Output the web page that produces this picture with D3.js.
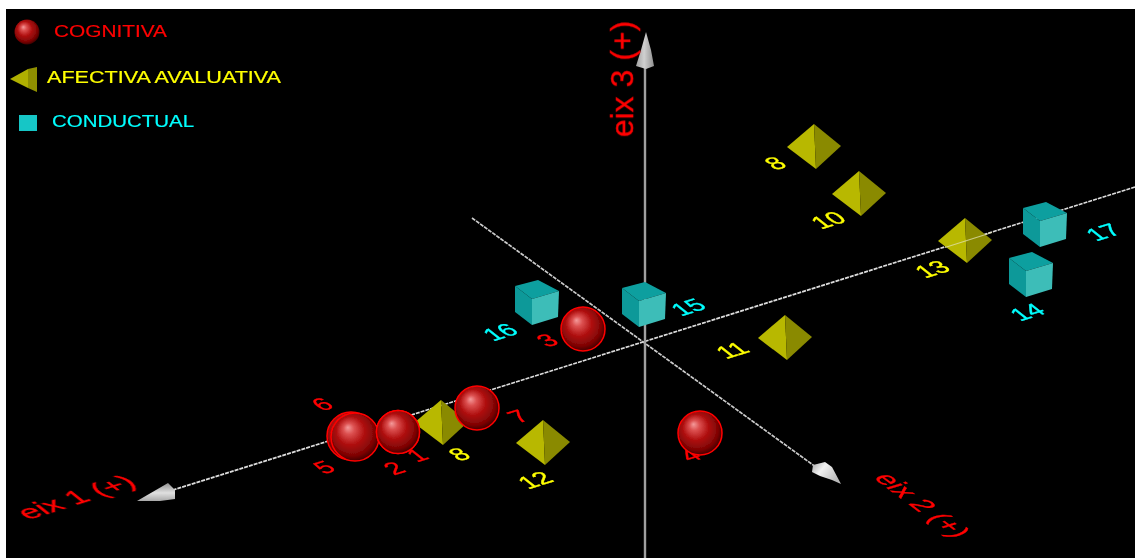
<!DOCTYPE html>
<html>
<head>
<meta charset="utf-8">
<script src="https://cdn.jsdelivr.net/npm/d3@7"></script>
<style>
html,body{margin:0;padding:0;background:#fff;overflow:hidden}
svg{display:block}
text{font-family:"Liberation Sans",Arial,sans-serif}
</style>
</head>
<body>
<div id="chart"></div>
<script>
// ---- data: projected position of each item on the picture plane (units from the axis origin)
const cognitivaIds = ["6","5","2","1","7","3","4"];
const cognitivaX   = [-2.94,-2.90,-2.47,-2.47,-1.68,-0.62,0.55];
const cognitivaY   = [-0.93,-0.94,-0.89,-0.89,-0.65,0.14,-0.90];

const afectivaIds = ["8","12","8","10","13","11"];
const afectivaX   = [-2.04,-1.02,1.69,2.14,3.20,1.40];
const afectivaY   = [-0.80,-1.00,1.96,1.49,1.02,0.05];

const conductualIds = ["16","15","17","14"];
const conductualX   = [-1.09,-0.02,3.99,3.85];
const conductualY   = [0.41,0.39,1.19,0.69];

const legendLabels = ["COGNITIVA","AFECTIVA AVALUATIVA","CONDUCTUAL"];
const axisLabels   = ["eix 1 (+)","eix 2 (+)","eix 3 (+)"];

// ---- layout
const W = 1135, H = 558;
const x = d3.scaleLinear().domain([-6.45,4.90]).range([0,W]);
const y = d3.scaleLinear().domain([3.43,-2.15]).range([0,H]);
const svg = d3.select("#chart").append("svg").attr("width",W).attr("height",H);
const defs = svg.append("defs");

const blur = defs.append("filter").attr("id","soft")
  .attr("filterUnits","userSpaceOnUse").attr("x",0).attr("y",0).attr("width",W).attr("height",H);
blur.append("feGaussianBlur").attr("stdDeviation",0.75);

const ball = defs.append("radialGradient").attr("id","ball").attr("cx","46%").attr("cy","44%").attr("r","58%")
  .attr("fx","35%").attr("fy","30%");
[[0,"#f49a9a"],[0.2,"#dc5050"],[0.5,"#b01010"],[0.82,"#7e0404"],[1,"#380000"]]
  .forEach(d=>ball.append("stop").attr("offset",d[0]).attr("stop-color",d[1]));

function coneGrad(id,x1,y1,x2,y2,stops){
  const g = defs.append("linearGradient").attr("id",id).attr("x1",x1).attr("y1",y1).attr("x2",x2).attr("y2",y2);
  stops.forEach(d=>g.append("stop").attr("offset",d[0]).attr("stop-color",d[1]));
}
coneGrad("coneV",0,0,1,0,[[0,"#a0a0a0"],[0.45,"#d0d0d0"],[1,"#909090"]]);
coneGrad("coneA",0,0,0,1,[[0,"#909090"],[0.55,"#e0e0e0"],[1,"#a8a8a8"]]);
coneGrad("coneB",0,0,1,0.6,[[0,"#a8a8a8"],[0.4,"#f2f2f2"],[1,"#b8b8b8"]]);

svg.append("rect").attr("x",6).attr("y",9).attr("width",W-6).attr("height",H-9).attr("fill","#000");
const root = svg.append("g").attr("filter","url(#soft)");

const px = (a,b)=>[x(a),y(b)];
const line = d3.line();
const poly = (g,pts,fill)=>g.append("path").attr("d",line(pts)+"Z").attr("fill",fill);

// ---- axes
const axes = [
  {from:px(4.90,1.56),to:px(-4.72,-1.47),col:"#dcdcdc",w:1.7,dash:"4 1"},
  {from:px(-1.73,1.25),to:px(1.75,-1.27),col:"#cccccc",w:1.7,dash:"4 1"},
  {from:px(0,-2.15),to:px(0,2.80),col:"#a0a0a0",w:2.4,dash:null}
];
axes.forEach(a=>root.append("line").attr("x1",a.from[0]).attr("y1",a.from[1]).attr("x2",a.to[0]).attr("y2",a.to[1])
  .attr("stroke",a.col).attr("stroke-width",a.w).attr("stroke-dasharray",a.dash));

// arrow cones, placed relative to the axis ends
poly(root,[[646,32],[651,50],[654,66],[646,69],[636,66],[641,50]],"url(#coneV)");
poly(root,[[137,501],[168,483],[175,490],[175,499],[160,501]],"url(#coneA)");
poly(root,[[841,484],[832,467],[825,462],[813,465],[812,472],[820,476],[832,480]],"url(#coneB)");

// ---- item labels (lie in the plane of axes 1 and 2)
function planeText(g,str,cx,cy,size,col,m,sw){
  g.append("text").text(str).attr("text-anchor","middle").attr("dy","0.36em")
    .attr("font-size",size).attr("fill",col).attr("stroke",col).attr("stroke-width",sw)
    .attr("transform",`matrix(${m.join(",")},${cx},${cy})`);
}
const ux=[0.95,-0.30], uy=[0.78,0.62];
const numM=[ux[0]*1.7,ux[1]*1.7,uy[0]*1.6,uy[1]*1.6];
const labelPos = {
  cognitiva:[[322,404],[324,467],[394,468],[417,455],[518,416],[547,340],[690,455]],
  afectiva:[[459,454],[535,480],[775,163],[828,220],[932,269],[732,350]],
  conductual:[[500,332],[688,307],[1103,232],[1027,312]]
};
const labels = root.append("g");
cognitivaIds.forEach((d,i)=>planeText(labels,d,labelPos.cognitiva[i][0],labelPos.cognitiva[i][1],15,"#ff0000",numM,0.25));
afectivaIds.forEach((d,i)=>planeText(labels,d,labelPos.afectiva[i][0],labelPos.afectiva[i][1],15,"#ffff00",numM,0.25));
conductualIds.forEach((d,i)=>planeText(labels,d,labelPos.conductual[i][0],labelPos.conductual[i][1],15,"#00ffff",numM,0.25));

// ---- axis titles
planeText(root,axisLabels[0],76,497,20,"#ff0000",[ux[0]*1.6,ux[1]*1.6,uy[0]*1.3,uy[1]*1.3],0.3);
planeText(root,axisLabels[1],923,505,20,"#ff0000",[0.8*1.4,0.6*1.4,-0.95*1.4,0.3*1.4],0.3);
planeText(root,axisLabels[2],622,79,20,"#ff0000",[0,-1.6,1.55,0],0.2);

// ---- marks
const radius = {"6":24,"5":24,"2":21.5,"1":21.5,"7":22,"3":22,"4":22};
function sphere(g,cx,cy,r){
  g.append("circle").attr("cx",cx).attr("cy",cy).attr("r",r).attr("fill","url(#ball)")
    .attr("stroke","#ff0000").attr("stroke-width",1.5);
}
function pyramid(g,c){
  const o=[[-27,0],[0,-23],[27,-1],[2,22]].map(p=>[c[0]+p[0],c[1]+p[1]]);
  poly(g,[o[0],o[1],o[3]],"#b8b800");
  poly(g,[o[1],o[2],o[3]],"#8a8a00");
}
function cube(g,c){
  const o=[[2,-22],[23,-11],[22,15],[-4,23],[-21,10],[-21,-16],[-4,-3]].map(p=>[c[0]+p[0],c[1]+p[1]]);
  poly(g,[o[5],o[0],o[1],o[6]],"#0f9f9f");
  poly(g,[o[5],o[6],o[3],o[4]],"#0d9999");
  poly(g,[o[6],o[1],o[2],o[3]],"#3ebdb8");
}
const marks = root.append("g");
afectivaIds.forEach((d,i)=>pyramid(marks,px(afectivaX[i],afectivaY[i])));
// axis 1 shows faintly through the pyramid on it
marks.append("line").attr("x1",x(3.0)).attr("y1",y(0.955)).attr("x2",x(3.47)).attr("y2",y(1.105))
  .attr("stroke","#e0e0b0").attr("stroke-width",1.2).attr("stroke-opacity",0.75);
conductualIds.forEach((d,i)=>cube(marks,px(conductualX[i],conductualY[i])));
cognitivaIds.forEach((d,i)=>{const p=px(cognitivaX[i],cognitivaY[i]);sphere(marks,p[0],p[1],radius[d]);});

// ---- legend
const leg = root.append("g");
leg.append("circle").attr("cx",27).attr("cy",32).attr("r",12.5).attr("fill","url(#ball)");
poly(leg,[[10,79],[28,69],[28,88]],"#b0b000");
poly(leg,[[28,69],[37,67],[37,92],[28,88]],"#8f8f00");
leg.append("rect").attr("x",19).attr("y",115).attr("width",18).attr("height",16).attr("fill","#12c6c6");
const legendText = [[54,113,31,"#ff0000"],[47,234,77,"#ffff00"],[52,142,121,"#00ffff"]];
legendLabels.forEach((d,i)=>{
  const t=legendText[i];
  leg.append("text").text(d).attr("x",t[0]).attr("y",t[2]).attr("dy","0.36em").attr("font-size",17)
    .attr("textLength",t[1]).attr("lengthAdjust","spacingAndGlyphs").attr("fill",t[3])
    .attr("stroke",t[3]).attr("stroke-width",0.2);
});
</script>
</body>
</html>
